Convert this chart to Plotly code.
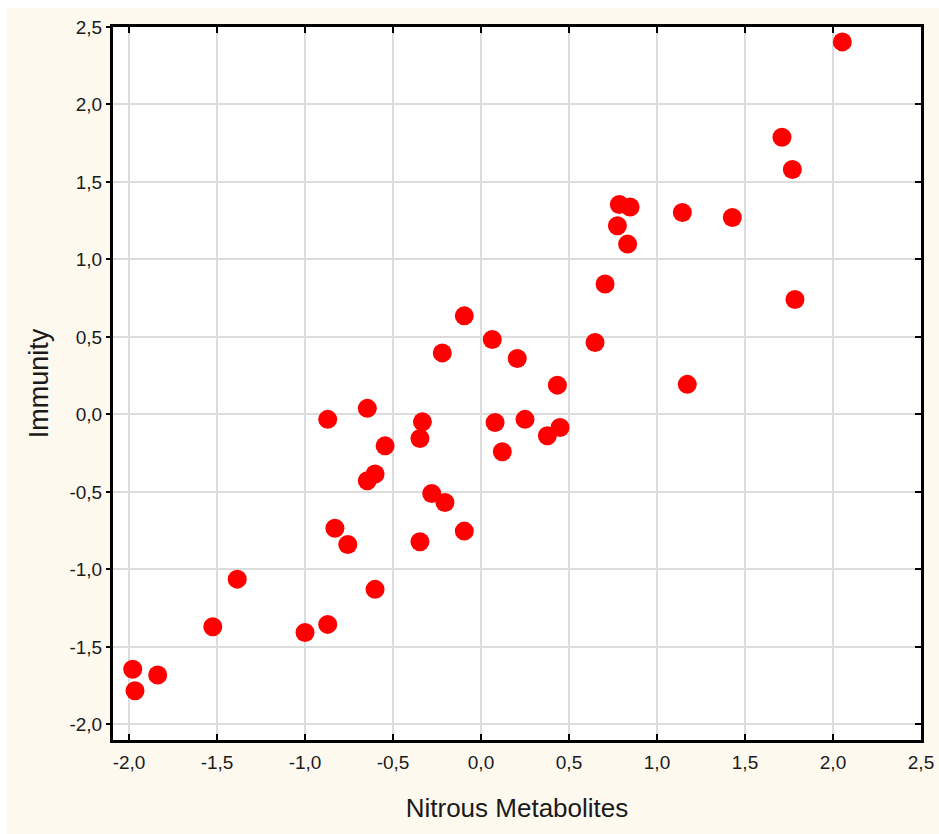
import plotly.graph_objects as go

# Standardised scores for each subject
nitrous_metabolites = [
    -1.979, -1.966, -1.837, -1.524, -1.385, -1.000, -0.871, -0.602, -0.830, -0.757,
    -0.347, -0.095, -0.280, -0.205, -0.646, -0.602, -0.545, -0.347, -0.333, -0.871,
    -0.646, -0.220, -0.095, 0.064, 0.206, 0.434, 0.648, 0.080, 0.250, 0.377,
    0.449, 0.121, 0.705, 0.786, 0.847, 0.775, 0.833, 1.144, 1.428, 1.784,
    1.172, 1.769, 1.710, 2.053,
]
immunity = [
    -1.645, -1.783, -1.682, -1.370, -1.063, -1.407, -1.355, -1.129, -0.735, -0.839,
    -0.822, -0.753, -0.510, -0.568, -0.428, -0.385, -0.203, -0.155, -0.048, -0.032,
    0.039, 0.397, 0.636, 0.484, 0.361, 0.189, 0.464, -0.052, -0.032, -0.138,
    -0.084, -0.241, 0.841, 1.355, 1.339, 1.217, 1.099, 1.303, 1.271, 0.742,
    0.194, 1.581, 1.789, 2.404,
]

x_ticks = [-2.0, -1.5, -1.0, -0.5, 0.0, 0.5, 1.0, 1.5, 2.0, 2.5]
x_tick_labels = ["-2,0", "-1,5", "-1,0", "-0,5", "0,0", "0,5", "1,0", "1,5", "2,0", "2,5"]
y_ticks = [-2.0, -1.5, -1.0, -0.5, 0.0, 0.5, 1.0, 1.5, 2.0, 2.5]
y_tick_labels = ["-2,0", "-1,5", "-1,0", "-0,5", "0,0", "0,5", "1,0", "1,5", "2,0", "2,5"]
x_range = [-2.091, 2.5]
y_range = [-2.101, 2.5]

FONT = "Liberation Sans, Arial, sans-serif"
INK = "#1a1a1a"
CREAM = "#fef9ef"
GRID = "#dcdcdc"

fig = go.Figure()

fig.add_trace(go.Scatter(
    x=nitrous_metabolites,
    y=immunity,
    mode="markers",
    marker=dict(size=19, color="#ff0000", line=dict(width=0)),
    showlegend=False,
))

# helper trace so the right-hand tick axis is rendered
fig.add_trace(go.Scatter(
    x=[nitrous_metabolites[0]], y=[immunity[0]],
    yaxis="y2", mode="markers",
    marker=dict(size=1, opacity=0),
    hoverinfo="skip", showlegend=False,
))

axis_common = dict(
    showline=True, linecolor="black", linewidth=3,
    showgrid=True, gridcolor=GRID, gridwidth=1.5,
    zeroline=False, automargin=False,
    tickcolor="black", tickwidth=2,
    tickfont=dict(family=FONT, size=19, color=INK),
)

fig.update_layout(
    width=939, height=834,
    margin=dict(l=113, r=18, t=27, b=94),
    paper_bgcolor="white",
    plot_bgcolor="white",
    xaxis=dict(
        **axis_common,
        range=x_range, tickmode="array", tickvals=x_ticks, ticktext=x_tick_labels,
        ticks="inside", ticklen=6, mirror="ticks",
        ticklabelstandoff=3,
        title=dict(text="Nitrous Metabolites",
                   font=dict(family=FONT, size=26, color=INK), standoff=28),
    ),
    yaxis=dict(
        **axis_common,
        range=y_range, tickmode="array", tickvals=y_ticks, ticktext=y_tick_labels,
        ticks="outside", ticklen=4, mirror=True,
        title=dict(text="Immunity",
                   font=dict(family=FONT, size=27, color=INK), standoff=14),
    ),
    yaxis2=dict(
        overlaying="y", side="right", range=y_range, tickvals=y_ticks,
        ticks="inside", ticklen=6, tickwidth=2, tickcolor="black",
        showticklabels=False, showgrid=False, showline=False, zeroline=False,
        automargin=False,
    ),
    shapes=[
        # cream backdrop framing the chart
        dict(type="rect", xref="paper", yref="paper",
             x0=-0.1312, x1=1.04, y0=-0.15, y1=1.0267,
             fillcolor=CREAM, line=dict(width=0), layer="below"),
        # white plotting area
        dict(type="rect", xref="paper", yref="paper",
             x0=0, x1=1, y0=0, y1=1,
             fillcolor="white", line=dict(width=0), layer="below"),
    ],
)

fig.write_html("out.html")
